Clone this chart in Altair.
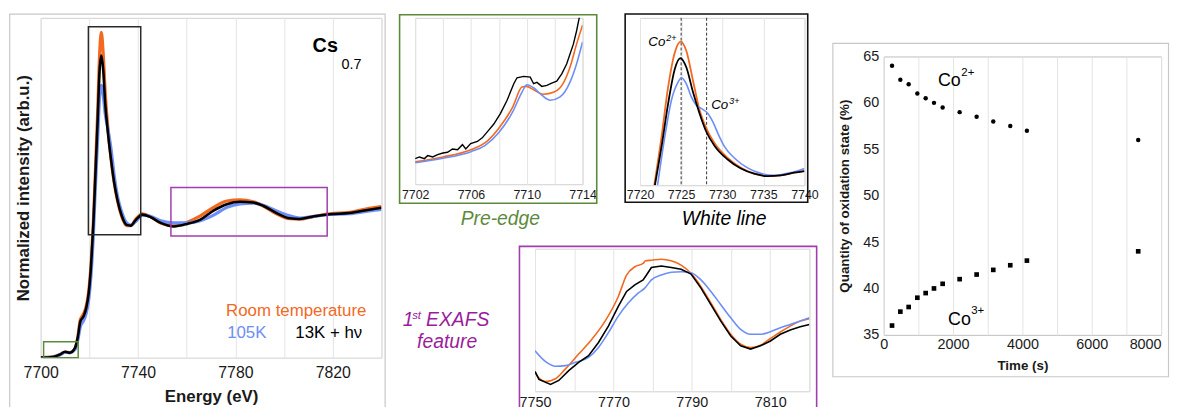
import altair as alt
import pandas as pd

FONT = "Liberation Sans"
ORANGE = "#F2691F"
BLUE = "#6D8EF6"
BLACK = "#000000"
GREEN = "#5C8A3C"
PURPLE = "#A23DAF"
PURPLE_TEXT = "#9A1C9C"
FRAME = "#C8C8C8"
BOX = "#CFCFCF"
GRID = "#E4E4E4"
LABEL = "#1A1A1A"

# ---------------- main XANES spectrum (normalized intensity) ----------------
main_energy = [7700, 7705, 7708, 7710, 7712, 7714, 7715.2, 7716.3, 7717.6, 7718.7,
               7719.8, 7720.7, 7721.6, 7722.4, 7723.4, 7724.2, 7724.9, 7725.7, 7726.5, 7727.5,
               7728.9, 7730.2, 7731.6, 7733.3, 7735.3, 7737, 7739, 7741.8, 7745.2, 7749.3,
               7754.7, 7760.2, 7765.6, 7771, 7776.5, 7781.9, 7787.3, 7791.4, 7796.9, 7802.3,
               7806.4, 7811.8, 7818.7, 7826.8, 7835, 7840]
main_room = [0, 0.005, 0.022, 0.040, 0.036, 0.060, 0.140, 0.270, 0.310, 0.365,
             0.480, 0.670, 0.950, 1.290, 1.740, 2.150, 2.306, 2.150, 1.880, 1.650,
             1.410, 1.240, 1.110, 1.000, 0.935, 0.935, 0.980, 1.020, 1.000, 0.955,
             0.935, 0.960, 1.005, 1.065, 1.110, 1.118, 1.105, 1.075, 1.020, 0.985,
             0.982, 1.000, 1.020, 1.030, 1.058, 1.072]
main_105k = [0, 0.004, 0.020, 0.038, 0.034, 0.055, 0.120, 0.220, 0.262, 0.315,
             0.420, 0.590, 0.860, 1.180, 1.550, 1.850, 1.931, 1.860, 1.730, 1.630,
             1.480, 1.290, 1.140, 1.030, 0.955, 0.940, 0.965, 1.010, 1.000, 0.970,
             0.955, 0.955, 0.970, 1.010, 1.065, 1.090, 1.095, 1.080, 1.040, 1.005,
             0.990, 1.000, 1.015, 1.020, 1.040, 1.050]
main_13k = [0, 0.005, 0.023, 0.042, 0.035, 0.065, 0.140, 0.257, 0.293, 0.351,
            0.468, 0.655, 0.936, 1.264, 1.685, 2.037, 2.142, 2.037, 1.802, 1.615,
            1.404, 1.240, 1.112, 1.006, 0.941, 0.936, 0.975, 1.014, 0.995, 0.955,
            0.930, 0.948, 0.979, 1.042, 1.088, 1.105, 1.100, 1.077, 1.025, 0.988,
            0.983, 1.000, 1.016, 1.025, 1.049, 1.062]

# zoom boxes drawn on the main spectrum: [white line, EXAFS, pre-edge]
box_e1 = [7719.6, 7753.5, 7701.2]
box_e2 = [7741.1, 7817.7, 7715.4]
box_v1 = [0.871, 0.862, 0.0]
box_v2 = [2.345, 1.206, 0.112]

# ---------------- pre-edge inset ----------------
pre_e_room = [7702, 7704, 7706, 7707, 7708, 7709, 7709.66, 7709.97, 7710.49, 7711.2,
              7711.96, 7712.62, 7713.1, 7713.57, 7714]
pre_room = [0.135, 0.164, 0.208, 0.248, 0.337, 0.465, 0.584, 0.588, 0.568, 0.541,
            0.554, 0.608, 0.703, 0.842, 0.956]
pre_e_105k = [7702, 7704, 7706, 7707, 7708, 7709, 7709.66, 7710.01, 7710.49, 7711.08,
              7711.68, 7712.39, 7713.1, 7713.57, 7714]
pre_105k = [0.129, 0.156, 0.196, 0.232, 0.311, 0.436, 0.554, 0.598, 0.580, 0.535,
            0.505, 0.525, 0.614, 0.723, 0.855]
pre_e_13k = [7702.00, 7702.31, 7702.66, 7702.90, 7703.26, 7703.61, 7703.99, 7704.32, 7704.68,
             7705.04, 7705.39, 7705.63, 7705.98, 7706.46, 7706.81, 7707.29, 7707.64, 7708.12,
             7708.59, 7709.07, 7709.30, 7709.78, 7710.25, 7710.49, 7710.73, 7711.08, 7711.44,
             7711.79, 7712.15, 7712.51, 7712.86, 7713.34, 7713.57, 7713.76, 7713.95]
pre_13k = [0.154, 0.164, 0.154, 0.172, 0.164, 0.178, 0.188, 0.192, 0.212,
           0.208, 0.238, 0.212, 0.244, 0.257, 0.279, 0.327, 0.362, 0.426,
           0.505, 0.604, 0.640, 0.648, 0.644, 0.604, 0.612, 0.588, 0.594,
           0.608, 0.620, 0.663, 0.723, 0.842, 0.921, 1.000, 1.060]

# ---------------- white line inset ----------------
wl_e_room = [7721.73, 7722.62, 7723.42, 7724.23, 7724.95, 7725.63, 7726.44, 7727.24, 7728.05,
             7729.05, 7730.66, 7732.27, 7733.88, 7735.49, 7737.10, 7738.71, 7740]
wl_room = [0.0, 0.291, 0.587, 0.793, 0.858, 0.803, 0.626, 0.449, 0.341,
           0.252, 0.163, 0.104, 0.069, 0.055, 0.059, 0.075, 0.085]
wl_e_13k = [7721.81, 7722.62, 7723.42, 7724.23, 7724.91, 7725.63, 7726.44, 7727.24, 7728.05,
            7729.05, 7730.66, 7732.27, 7733.88, 7735.49, 7737.10, 7738.71, 7740]
wl_13k = [0.0, 0.232, 0.488, 0.695, 0.760, 0.705, 0.557, 0.429, 0.321,
          0.236, 0.154, 0.100, 0.069, 0.055, 0.059, 0.075, 0.085]
wl_e_105k = [7722.13, 7723.02, 7723.82, 7724.63, 7725.03, 7725.63, 7726.24, 7726.84, 7727.44,
             7728.25, 7728.85, 7729.46, 7730.26, 7731.47, 7733.08, 7734.69, 7736.30, 7737.91,
             7739.11, 7740]
wl_105k = [0.0, 0.291, 0.508, 0.616, 0.642, 0.606, 0.528, 0.478, 0.459,
           0.429, 0.380, 0.311, 0.232, 0.163, 0.104, 0.071, 0.059, 0.071,
           0.085, 0.100]
wl_marks = [7725.0, 7728.1]

# ---------------- first EXAFS feature inset ----------------
ex_e_room = [7750, 7751.01, 7752.70, 7755.23, 7757.76, 7761.13, 7764.51, 7767.88, 7771.25, 7773.36,
             7775.47, 7777.58, 7778.17, 7779.69, 7782.22, 7784.75, 7787.28, 7789.81, 7792.34, 7794.87,
             7797.40, 7799.93, 7802.46, 7804.99, 7807.52, 7810.05, 7812.58, 7815.11, 7817.64, 7820]
ex_room = [0.134, 0.092, 0.069, 0.088, 0.157, 0.261, 0.365, 0.492, 0.665, 0.815,
           0.873, 0.896, 0.915, 0.919, 0.926, 0.915, 0.885, 0.827, 0.734, 0.619,
           0.503, 0.400, 0.330, 0.307, 0.323, 0.370, 0.416, 0.457, 0.492, 0.508]
ex_e_13k = [7750, 7751.01, 7753.96, 7756.07, 7758.60, 7761.13, 7763.66, 7766.19, 7768.72, 7771.25,
            7773.36, 7775.47, 7777.58, 7778.43, 7779.69, 7782.22, 7784.75, 7787.28, 7789.81, 7792.34,
            7794.87, 7797.40, 7799.93, 7802.46, 7804.99, 7807.52, 7810.05, 7812.58, 7815.11, 7817.64,
            7820]
ex_13k = [0.139, 0.083, 0.048, 0.076, 0.145, 0.203, 0.249, 0.342, 0.457, 0.596,
          0.700, 0.746, 0.781, 0.815, 0.868, 0.878, 0.868, 0.855, 0.822, 0.723,
          0.607, 0.492, 0.388, 0.319, 0.296, 0.319, 0.353, 0.400, 0.430, 0.453,
          0.469]
ex_e_105k = [7750, 7752.70, 7755.23, 7757.76, 7760.29, 7763.66, 7766.19, 7768.72, 7771.25, 7773.78,
             7776.31, 7778.00, 7779.69, 7782.22, 7784.75, 7787.28, 7789.81, 7792.34, 7794.87, 7797.40,
             7799.93, 7802.46, 7804.99, 7807.52, 7810.05, 7812.58, 7815.11, 7817.64, 7820]
ex_105k = [0.284, 0.208, 0.176, 0.180, 0.203, 0.238, 0.307, 0.411, 0.527, 0.619,
           0.688, 0.723, 0.781, 0.815, 0.834, 0.838, 0.831, 0.781, 0.700, 0.607,
           0.515, 0.434, 0.400, 0.400, 0.418, 0.446, 0.469, 0.492, 0.515]

# ---------------- oxidation state vs time ----------------
time_s = [240, 480, 720, 970, 1210, 1450, 1700, 2190, 2680, 3160, 3650, 4130, 7340]
co2_pct = [64, 62.5, 62, 61, 60.5, 60, 59.5, 59, 58.5, 58, 57.5, 57, 56]
co3_pct = [36, 37.5, 38, 39, 39.5, 40, 40.5, 41, 41.5, 42, 42.5, 43, 44]

ONE = pd.DataFrame({"k": [0]})


def curve(xs, ys, X, Y, color, width, interp="monotone", clip=True):
    df = pd.DataFrame({"e": xs, "v": ys})
    return alt.Chart(df).mark_line(color=color, strokeWidth=width, interpolate=interp,
                                   clip=clip).encode(x=X, y=Y)


def frame(x1, x2, y1, y2, color, width=1.2):
    return alt.Chart(ONE).mark_rect(fillOpacity=0, stroke=color, strokeWidth=width).encode(
        x=alt.value(x1), x2=alt.value(x2), y=alt.value(y1), y2=alt.value(y2))


def spacer(x1, x2, y1, y2):
    return alt.Chart(ONE).mark_rect(opacity=0).encode(
        x=alt.value(x1), x2=alt.value(x2), y=alt.value(y1), y2=alt.value(y2))


def ptext(text, x, y, size, color, align="left", style="normal", weight="normal"):
    return alt.Chart(ONE).mark_text(text=text, align=align, baseline="alphabetic", font=FONT,
                                    fontSize=size, color=color, fontStyle=style,
                                    fontWeight=weight).encode(x=alt.value(x), y=alt.value(y))


def dtext(text, e, v, X, Y, size, color, align="left", style="normal", weight="normal"):
    df = pd.DataFrame({"e": [e], "v": [v]})
    return alt.Chart(df).mark_text(text=text, align=align, baseline="alphabetic", font=FONT,
                                   fontSize=size, color=color, fontStyle=style,
                                   fontWeight=weight).encode(x=X, y=Y)


def xaxis(values, expr, size, pad, title=None, title_pad=6):
    kw = dict(values=values, labelExpr=expr, format="d", grid=True, gridColor=GRID, ticks=False,
              domain=False, labelFontSize=size, labelPadding=pad, labelColor=LABEL,
              labelFlush=False, labelOverlap=False, labelFont=FONT)
    if title is not None:
        kw.update(title=title, titleFontSize=17, titleFontWeight="bold", titlePadding=title_pad,
                  titleFont=FONT, titleColor=LABEL)
    else:
        kw.update(title=None)
    return alt.Axis(**kw)


NOY = alt.Axis(labels=False, ticks=False, grid=False, domain=False, title=None)

# ---------------- main panel ----------------
MW, MH = 344, 343
MX = alt.X("e:Q", scale=alt.Scale(domain=[7700, 7840], nice=False, zero=False),
           axis=xaxis(list(range(7700, 7841, 20)), "datum.value % 40 == 20 ? datum.label : ''",
                      16, 7, "Energy (eV)", 8))
MY = alt.Y("v:Q", scale=alt.Scale(domain=[0, 2.409], nice=False),
           axis=alt.Axis(labels=False, ticks=False, grid=False, domain=False,
                         title="Normalized intensity (arb.u.)", titleFontSize=17,
                         titleFontWeight="bold", titlePadding=8, titleFont=FONT, titleColor=LABEL))


def box(i, color):
    df = pd.DataFrame({"e": [box_e1[i]], "e2": [box_e2[i]], "v": [box_v1[i]], "v2": [box_v2[i]]})
    return alt.Chart(df).mark_rect(fillOpacity=0, stroke=color, strokeWidth=1.5).encode(
        x=MX, x2="e2:Q", y=MY, y2="v2:Q")


main_chart = alt.layer(
    frame(-31.3, 347.7, -3.8, 395, FRAME),
    curve(main_energy, main_room, MX, MY, ORANGE, 3.2),
    curve(main_energy, main_105k, MX, MY, BLUE, 3.2),
    curve(main_energy, main_13k, MX, MY, BLACK, 2.6),
    box(0, "#2A2A2A"),
    box(1, PURPLE),
    box(2, GREEN),
    dtext("Cs", 7811.7, 2.168, MX, MY, 20, BLACK, weight="bold"),
    dtext("0.7", 7823.6, 2.049, MX, MY, 14.5, BLACK),
    dtext("Room temperature", 7833.8, 0.293, MX, MY, 17, ORANGE, align="right"),
    dtext("105K", 7776.6, 0.140, MX, MY, 17, BLUE),
    dtext("13K + h\u03bd", 7832.1, 0.140, MX, MY, 17, BLACK, align="right"),
).properties(width=MW, height=MH, view=alt.ViewBackground(stroke=BOX))

# ---------------- pre-edge inset ----------------
PX = alt.X("e:Q", scale=alt.Scale(domain=[7702, 7714], nice=False, zero=False),
           axis=xaxis(list(range(7702, 7715, 2)), "(datum.value - 7702) % 4 == 0 ? datum.label : ''",
                      12.5, 4))
PY = alt.Y("v:Q", scale=alt.Scale(domain=[0, 1], nice=False), axis=NOY)
pre_chart = alt.layer(
    frame(-15.7, 183.3, -3.1, 187.2, GREEN, 1.6),
    curve(pre_e_room, pre_room, PX, PY, ORANGE, 1.6),
    curve(pre_e_105k, pre_105k, PX, PY, BLUE, 1.6),
    curve(pre_e_13k, pre_13k, PX, PY, BLACK, 1.4, interp="linear"),
    ptext("Pre-edge", 86, 209.5, 19.5, GREEN, align="center", style="italic"),
).properties(width=169, height=168, view=alt.ViewBackground(stroke=BOX))

# ---------------- white line inset ----------------
WX = alt.X("e:Q", scale=alt.Scale(domain=[7720, 7740], nice=False, zero=False),
           axis=xaxis(list(range(7720, 7741, 5)), "datum.label", 12.5, 3))
WY = alt.Y("v:Q", scale=alt.Scale(domain=[0, 1], nice=False), axis=NOY)
wl_rules = alt.Chart(pd.DataFrame({"e": wl_marks})).mark_rule(
    color="#333333", strokeWidth=1, strokeDash=[3, 2]).encode(x=WX)
white_chart = alt.layer(
    frame(-15, 169.3, -3.8, 186.2, "#111111", 1.6),
    wl_rules,
    curve(wl_e_room, wl_room, WX, WY, ORANGE, 1.8),
    curve(wl_e_105k, wl_105k, WX, WY, BLUE, 1.6),
    curve(wl_e_13k, wl_13k, WX, WY, BLACK, 1.8),
    dtext("Co", 7721.0, 0.833, WX, WY, 13.5, BLACK, style="italic"),
    dtext("2+", 7723.2, 0.862, WX, WY, 9, BLACK, style="italic"),
    dtext("Co", 7728.65, 0.455, WX, WY, 13.5, BLACK, style="italic"),
    dtext("3+", 7730.85, 0.488, WX, WY, 9, BLACK, style="italic"),
    ptext("White line", 85, 209.5, 19.5, BLACK, align="center", style="italic"),
).properties(width=166, height=169, view=alt.ViewBackground(stroke=BOX))

# ---------------- EXAFS inset + its caption ----------------
exafs_label = alt.layer(
    ptext("1", -12.4, 78.3, 19.5, PURPLE_TEXT, style="italic"),
    ptext("st", -3.0, 71.5, 11.5, PURPLE_TEXT, style="italic"),
    ptext("EXAFS", 11, 78.3, 19.5, PURPLE_TEXT, style="italic"),
    ptext("feature", 32.3, 100.5, 19.5, PURPLE_TEXT, align="center", style="italic"),
).properties(width=90, height=144)

EX = alt.X("e:Q", scale=alt.Scale(domain=[7750, 7820], nice=False, zero=False),
           axis=xaxis(list(range(7750, 7821, 10)), "(datum.value - 7750) % 20 == 0 ? datum.label : ''",
                      14.5, 4))
EY = alt.Y("v:Q", scale=alt.Scale(domain=[0, 1], nice=False), axis=NOY)
exafs_chart = alt.layer(
    frame(-15.7, 284.3, -2.3, 165, PURPLE, 1.6),
    curve(ex_e_room, ex_room, EX, EY, ORANGE, 1.6),
    curve(ex_e_105k, ex_105k, EX, EY, BLUE, 1.6),
    curve(ex_e_13k, ex_13k, EX, EY, BLACK, 1.6, interp="linear"),
).properties(width=277, height=144, view=alt.ViewBackground(stroke=BOX))

# ---------------- time panel ----------------
TX = alt.X("t:Q", scale=alt.Scale(domain=[0, 8000], nice=False),
           axis=alt.Axis(values=list(range(0, 8001, 1000)),
                         labelExpr="datum.value % 2000 == 0 ? datum.label : ''",
                         labelAlign={"condition": {"test": "datum.value >= 8000", "value": "right"},
                                     "value": "center"},
                         format="d", grid=True, gridColor=GRID, ticks=False, domain=False,
                         labelFontSize=14.5, labelPadding=3, labelColor=LABEL, labelFlush=False,
                         labelOverlap=False, title="Time (s)", titleFontSize=13.5,
                         titleFontWeight="bold", titlePadding=8, titleFont=FONT, titleColor=LABEL,
                         labelFont=FONT))
TY = alt.Y("p:Q", scale=alt.Scale(domain=[35, 65], nice=False, zero=False),
           axis=alt.Axis(values=list(range(35, 66, 5)), grid=False, ticks=False, domain=False,
                         labelFontSize=14.5, labelPadding=5, labelColor=LABEL, labelFlush=False,
                         labelOverlap=False, title="Quantity of oxidation state (%)",
                         titleFontSize=13.5, titleFontWeight="bold", titlePadding=11,
                         titleFont=FONT, titleColor=LABEL, labelFont=FONT))
co2_df = pd.DataFrame({"t": time_s, "p": co2_pct})
co3_df = pd.DataFrame({"t": time_s, "p": co3_pct})


def ttext(text, t, p, size):
    df = pd.DataFrame({"t": [t], "p": [p]})
    return alt.Chart(df).mark_text(text=text, align="left", baseline="alphabetic", font=FONT,
                                   fontSize=size, color=BLACK).encode(x=TX, y=TY)


time_chart = alt.layer(
    frame(-51.3, 287.5, -13.3, 323.3, FRAME),
    alt.Chart(co2_df).mark_point(shape="circle", filled=True, size=20, color=BLACK, opacity=1).encode(x=TX, y=TY),
    alt.Chart(co3_df).mark_point(shape="square", filled=True, size=22, color=BLACK, opacity=1).encode(x=TX, y=TY),
    ttext("Co", 1563, 61.8, 18),
    ttext("2+", 2240, 62.9, 11.5),
    ttext("Co", 1857, 36.07, 18),
    ttext("3+", 2526, 37.24, 11.5),
).properties(width=280, height=281, view=alt.ViewBackground(stroke="#BDBDBD"))

time_pad = spacer(0, 1, 0, 1).properties(width=10, height=24)

top_row = alt.hconcat(pre_chart, white_chart, spacing=25)
bottom_row = alt.hconcat(exafs_label, exafs_chart, spacing=14)
middle = alt.vconcat(top_row, bottom_row, spacing=15)
right_col = alt.vconcat(time_pad, time_chart, spacing=0)
chart = alt.hconcat(main_chart, middle, right_col, spacing=12).properties(
    padding={"left": 0, "top": 2, "right": 0, "bottom": 0}
).configure_view(stroke=None).configure_axis(labelFont=FONT, titleFont=FONT)

chart.save("out.html", embed_options={"renderer": "svg", "actions": False})
